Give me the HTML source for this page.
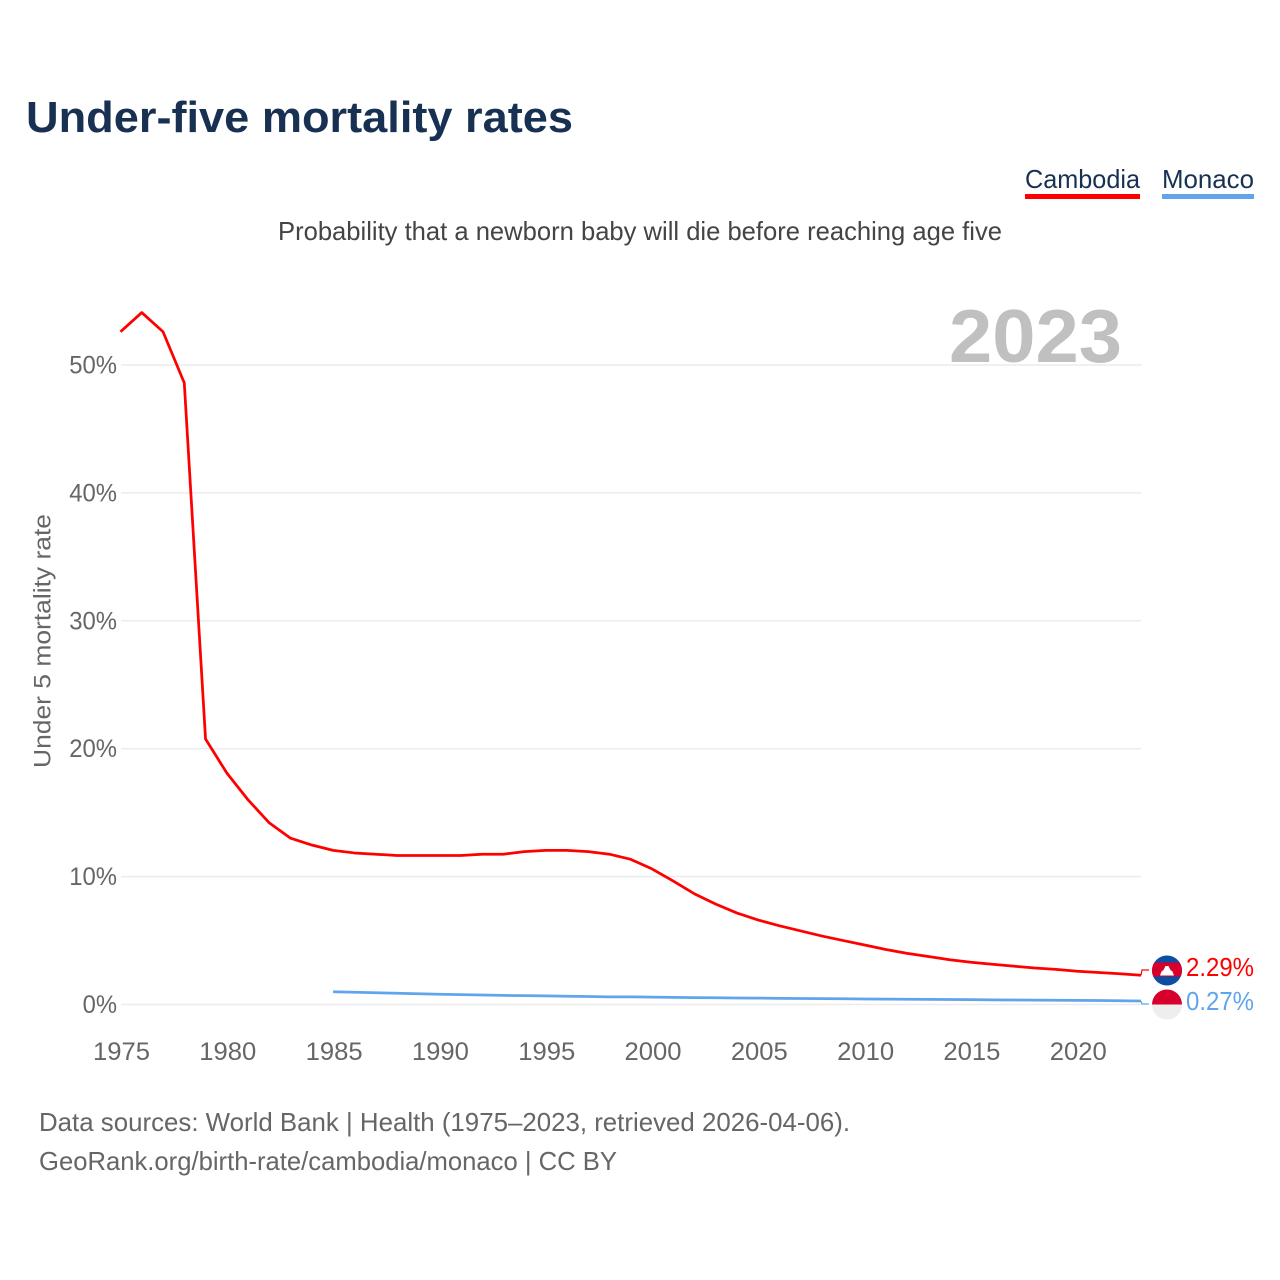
<!DOCTYPE html>
<html lang="en">
<head>
<meta charset="utf-8">
<title>Under-five mortality rates</title>
<style>
html,body{margin:0;padding:0;background:#fff;width:1280px;height:1280px;overflow:hidden}
svg{display:block}
text{font-family:"Liberation Sans",sans-serif}
</style>
</head>
<body>
<svg id="chart" width="1280" height="1280" viewBox="0 0 1280 1280" xmlns="http://www.w3.org/2000/svg">
  <defs>
    <clipPath id="flag-clip-kh"><circle cx="1167" cy="970.500" r="15"/></clipPath>
  </defs>
  <text x="26" y="132" font-size="44" font-weight="700" fill="#183153" textLength="547" lengthAdjust="spacingAndGlyphs">Under-five mortality rates</text>

  <g>
    <text x="1025" y="188" font-size="26" fill="#183153" textLength="115" lengthAdjust="spacingAndGlyphs">Cambodia</text>
    <rect x="1025" y="194" width="115" height="5" fill="#ff0000"/>
  </g>
  <g>
    <text x="1162" y="188" font-size="26" fill="#183153" textLength="92" lengthAdjust="spacingAndGlyphs">Monaco</text>
    <rect x="1162" y="194" width="92" height="5" fill="#60a5ec"/>
  </g>

  <text x="278" y="240" font-size="26" fill="#444444" textLength="724" lengthAdjust="spacingAndGlyphs">Probability that a newborn baby will die before reaching age five</text>

  <g id="grid"></g>
  <g id="yticks"></g>
  <g id="xticks"></g>

  <text transform="translate(50.500 641) rotate(-90)" text-anchor="middle" font-size="24.500" fill="#666666" textLength="254" lengthAdjust="spacingAndGlyphs">Under 5 mortality rate</text>

  <text x="949" y="362" font-size="75" font-weight="700" fill="#c0c0c0" textLength="173" lengthAdjust="spacingAndGlyphs">2023</text>

  <g id="series"></g>

  <g clip-path="url(#flag-clip-kh)">
    <rect x="1152" y="955" width="30" height="31" fill="#0b4ea2"/>
    <rect x="1152" y="962.500" width="30" height="14" fill="#d7002c"/>
    <path d="M1160 975.500l1.500-4 2-1.500 2-4h3l2 4 2 1.500 1.500 4z" fill="#ffffff"/>
  </g>
  <g>
    <path d="M1152 1004.500a15 15 0 0 1 30 0z" fill="#d7002c"/>
    <path d="M1152 1004.500a15 15 0 0 0 30 0z" fill="#eeeeee"/>
  </g>

  <text x="1186" y="976" font-size="26" fill="#ff0000" textLength="68" lengthAdjust="spacingAndGlyphs">2.29%</text>
  <text x="1186" y="1010" font-size="26" fill="#60a5ec" textLength="68" lengthAdjust="spacingAndGlyphs">0.27%</text>

  <text x="39" y="1131" font-size="26" fill="#666666" textLength="811" lengthAdjust="spacingAndGlyphs">Data sources: World Bank | Health (1975–2023, retrieved 2026-04-06).</text>
  <text x="39" y="1170" font-size="26" fill="#666666" textLength="578" lengthAdjust="spacingAndGlyphs">GeoRank.org/birth-rate/cambodia/monaco | CC BY</text>
</svg>
<script>
const yTickValues = [0, 10, 20, 30, 40, 50];
const xTickYears = [1975, 1980, 1985, 1990, 1995, 2000, 2005, 2010, 2015, 2020];
const cambodiaStartYear = 1975;
const cambodiaValues = [52.6, 54.1, 52.6, 48.6, 20.76, 18.1, 16.0, 14.2, 13.0, 12.47,
  12.05, 11.85, 11.75, 11.65, 11.65, 11.65, 11.65, 11.75, 11.75, 11.95,
  12.05, 12.05, 11.95, 11.75, 11.35, 10.6, 9.65, 8.65, 7.85, 7.15,
  6.6, 6.15, 5.75, 5.35, 5.0, 4.65, 4.3, 4.0, 3.75, 3.5,
  3.3, 3.15, 3.0, 2.85, 2.75, 2.6, 2.5, 2.4, 2.29];
const monacoStartYear = 1985;
const monacoValues = [1.0, 0.96, 0.92, 0.88, 0.84, 0.8, 0.77, 0.74, 0.71, 0.69,
  0.67, 0.65, 0.63, 0.6, 0.6, 0.58, 0.56, 0.54, 0.53, 0.51,
  0.5, 0.48, 0.47, 0.46, 0.45, 0.43, 0.42, 0.41, 0.4, 0.39,
  0.38, 0.36, 0.35, 0.34, 0.33, 0.32, 0.31, 0.29, 0.27];

const NS = 'http://www.w3.org/2000/svg';
function xScale(year) { return 120.5 + (year - 1975) * (1141 - 120.5) / 48; }
function yScale(v) { return 1004.5 - v * (1004.5 - 365) / 50; }

const grid = document.getElementById('grid');
const yTicks = document.getElementById('yticks');
const xTicks = document.getElementById('xticks');
const seriesGroup = document.getElementById('series');

yTickValues.forEach(function (v) {
  const line = document.createElementNS(NS, 'line');
  
  
  line.setAttribute('x1', 121);
  line.setAttribute('x2', 1141.5);
  line.setAttribute('y1', yScale(v));
  line.setAttribute('y2', yScale(v));
  line.setAttribute('stroke', '#ececec');
  line.setAttribute('stroke-width', '1.5');
  grid.appendChild(line);

  const label = document.createElementNS(NS, 'text');
  
  
  label.setAttribute('x', 117);
  label.setAttribute('y', yScale(v) + 8.5);
  label.setAttribute('text-anchor', 'end');
  label.setAttribute('font-size', '25');
  label.setAttribute('fill', '#666666');
  label.setAttribute('textLength', String(v).length * 13.4 + 21);
  label.setAttribute('lengthAdjust', 'spacingAndGlyphs');
  label.textContent = v + '%';
  yTicks.appendChild(label);
});

xTickYears.forEach(function (yr) {
  const label = document.createElementNS(NS, 'text');
  
  
  label.setAttribute('x', xScale(yr) + 1);
  label.setAttribute('y', 1060);
  label.setAttribute('text-anchor', 'middle');
  label.setAttribute('font-size', '25');
  label.setAttribute('fill', '#666666');
  label.setAttribute('textLength', '57');
  label.setAttribute('lengthAdjust', 'spacingAndGlyphs');
  label.textContent = yr;
  xTicks.appendChild(label);
});

function pointsFor(values, startYear) {
  return values.map(function (v, i) {
    return xScale(startYear + i).toFixed(2) + ',' + yScale(v).toFixed(2);
  });
}

const cambodiaLine = document.createElementNS(NS, 'polyline');


cambodiaLine.setAttribute('points', pointsFor(cambodiaValues, cambodiaStartYear).join(' '));
cambodiaLine.setAttribute('fill', 'none');
cambodiaLine.setAttribute('stroke', '#ff0000');
cambodiaLine.setAttribute('stroke-width', '2.75');
cambodiaLine.setAttribute('stroke-linejoin', 'round');
seriesGroup.appendChild(cambodiaLine);

const monacoLine = document.createElementNS(NS, 'polyline');


monacoLine.setAttribute('points', pointsFor(monacoValues, monacoStartYear).join(' '));
monacoLine.setAttribute('fill', 'none');
monacoLine.setAttribute('stroke', '#60a5ec');
monacoLine.setAttribute('stroke-width', '2.75');
monacoLine.setAttribute('stroke-linejoin', 'round');
seriesGroup.appendChild(monacoLine);

function connector(values, labelY, color, name) {
  const last = yScale(values[values.length - 1]);
  const path = document.createElementNS(NS, 'path');
  
  
  path.setAttribute('d', 'M1141 ' + last.toFixed(2) + 'L1142 ' + labelY + 'L1149 ' + labelY);
  path.setAttribute('fill', 'none');
  path.setAttribute('stroke', color);
  path.setAttribute('stroke-width', '1.2');
  seriesGroup.appendChild(path);
}
connector(cambodiaValues, 970, '#ff0000', 'connector-cambodia');
connector(monacoValues, 1004, '#60a5ec', 'connector-monaco');
</script>
</body>
</html>
